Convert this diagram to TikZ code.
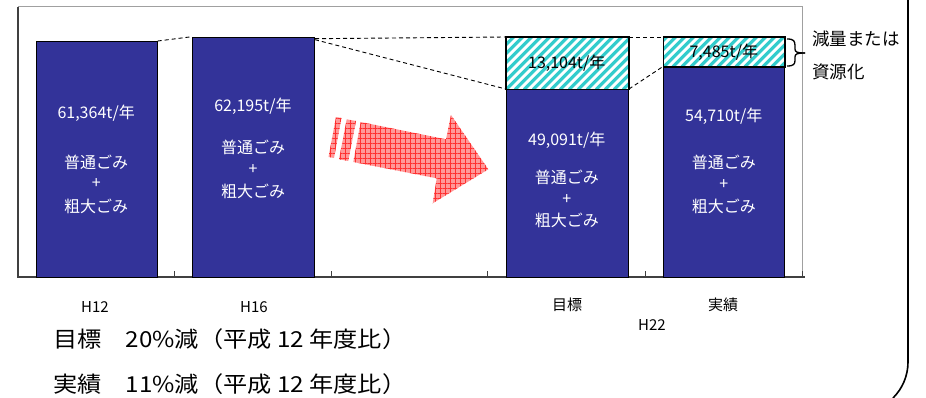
\documentclass[tikz,border=0pt]{standalone}
\usepackage{fontspec}
\setmainfont{Noto Sans CJK JP}
\usetikzlibrary{patterns.meta}
\definecolor{barblue}{HTML}{333399}
\definecolor{hatchteal}{HTML}{33CCCC}
\definecolor{arrowpink}{HTML}{FF9898}
\definecolor{arrowred}{HTML}{FF3030}
\definecolor{framegray}{HTML}{A0A0A0}
\definecolor{axisgray}{HTML}{404040}
\begin{document}
\begin{tikzpicture}[x=1pt,y=-1pt,
  bar/.style={draw=black, line width=1pt, fill=barblue, inner sep=0pt, anchor=north west},
  hatchbar/.style={draw=black, line width=1pt, fill=white, inner sep=0pt, anchor=north west,
    path picture={\foreach \k in {-8,...,16}
      \draw[hatchteal, line width=3.2pt] ([xshift=\k*9pt]path picture bounding box.south west) -- ++(70,-70);}},
  bartext/.style={text=white, inner sep=0pt, font=\fontsize{16}{19}\selectfont},
  hatchtext/.style={text=black, inner sep=0pt, font=\fontsize{16}{19}\selectfont},
  axislabel/.style={inner sep=0pt, font=\fontsize{15}{18}\selectfont},
  bigtext/.style={inner sep=0pt, anchor=west, xscale=1.1, font=\fontsize{22}{26}\selectfont},
  sidetext/.style={inner sep=0pt, anchor=west, font=\fontsize{17.5}{21}\selectfont},
  dashlink/.style={dash pattern=on 4pt off 3pt, line width=0.9pt},
  arrowfill/.style={fill=arrowpink, postaction={pattern={Hatch[angle=0,distance=5pt,line width=0.35pt]}, pattern color=arrowred}}
]
\useasboundingbox (0,0) rectangle (926,398);

% plot frame
\draw[framegray, line width=1pt] (18,7) -- (802,7) -- (802,277);
\draw[axisgray, line width=1.2pt] (18,7) -- (18,277) -- (805,277);
\foreach \tx in {174.7,331.7,487,645.7,802}
  \draw[axisgray, line width=1pt] (\tx,271) -- (\tx,277);

% bars
\node[bar, minimum width=121pt, minimum height=236pt] (b1) at (35.7,41) {};
\node[bar, minimum width=122pt, minimum height=240.3pt] (b2) at (192,36.7) {};
\node[hatchbar, minimum width=122.3pt, minimum height=52pt] (b3t) at (505.7,37) {};
\node[bar, minimum width=122.3pt, minimum height=188pt] (b3b) at (505.7,89) {};
\node[hatchbar, minimum width=121pt, minimum height=29.3pt] (b4t) at (663.3,37) {};
\node[bar, minimum width=121pt, minimum height=210.7pt] (b4b) at (663.3,66.3) {};
\draw[line width=1pt] (b3t.south west) rectangle (b3t.north east);
\draw[line width=1pt] (b4t.south west) rectangle (b4t.north east);

% dashed links
\draw[dashlink] (b1.north east) -- (b2.north west);
\draw[dashlink] ([yshift=-2pt]b2.north east) -- (b3t.north west);
\draw[dashlink] ([yshift=-3pt]b2.north east) -- (b3b.north west);
\draw[dashlink] (b3t.north east) -- (b4t.north west);
\draw[dashlink] (b3b.north east) -- (b4b.north west);

% bar texts
\node[bartext] (t1a) at (96.2,113) {61,364t/年};
\node[bartext] (t1b) at (96.2,162.7) {普通ごみ};
\node[bartext] (t1c) at (96.2,183.3) {+};
\node[bartext] (t1d) at (96.2,206.7) {粗大ごみ};

\node[bartext] (t2a) at (253,106.7) {62,195t/年};
\node[bartext] (t2b) at (253,147.3) {普通ごみ};
\node[bartext] (t2c) at (253,169.3) {+};
\node[bartext] (t2d) at (253,191.7) {粗大ごみ};

\node[hatchtext] (t3h) at (566.8,63.3) {13,104t/年};
\node[bartext] (t3a) at (566.8,140.7) {49,091t/年};
\node[bartext] (t3b) at (566.8,177.7) {普通ごみ};
\node[bartext] (t3c) at (566.8,199.3) {+};
\node[bartext] (t3d) at (566.8,220.7) {粗大ごみ};

\node[hatchtext] (t4h) at (723.8,52.5) {7,485t/年};
\node[bartext] (t4a) at (723.8,116.7) {54,710t/年};
\node[bartext] (t4b) at (723.8,162.7) {普通ごみ};
\node[bartext] (t4c) at (723.8,184.3) {+};
\node[bartext] (t4d) at (723.8,206.7) {粗大ごみ};

% red arrow
\path[arrowfill] (336,117) -- (341.5,118) -- (334,158) -- (328.5,157) -- cycle;
\path[arrowfill] (346.7,119.3) -- (356,121) -- (348.3,161) -- (339,159.3) -- cycle;
\path[arrowfill] (360.7,122) -- (446,139.3) -- (451,115) -- (488.3,169.3) -- (432.7,203.3) -- (436.7,178.3) -- (353.3,162) -- cycle;

% brace and side label
\draw[line width=1.3pt] (787,39) .. controls (794,39) and (795,41) .. (795,46) -- (795,49) .. controls (795,52) and (797,53) .. (805,53);
\draw[line width=1.3pt] (787,66) .. controls (794,66) and (795,64) .. (795,60) -- (795,57) .. controls (795,54) and (797,53) .. (805,53);
\node[sidetext] (s1) at (812,39) {減量または};
\node[sidetext] (s2) at (812,71.7) {資源化};

% right border line
\draw[line width=1.6pt] (908,-2) -- (908,362) .. controls (908,375.5) and (902.6,388.5) .. (893,398);

% axis labels
\node[axislabel] (l1) at (95,307) {H12};
\node[axislabel] (l2) at (254,307) {H16};
\node[axislabel] (l3) at (567,305) {目標};
\node[axislabel] (l4) at (723,305) {実績};
\node[axislabel] (l5) at (652,325) {H22};

% bottom notes
\node[bigtext] (n1) at (53,339) {目標　20\%減（平成 12 年度比）};
\node[bigtext] (n2) at (53,384) {実績　11\%減（平成 12 年度比）};
\end{tikzpicture}
\end{document}
